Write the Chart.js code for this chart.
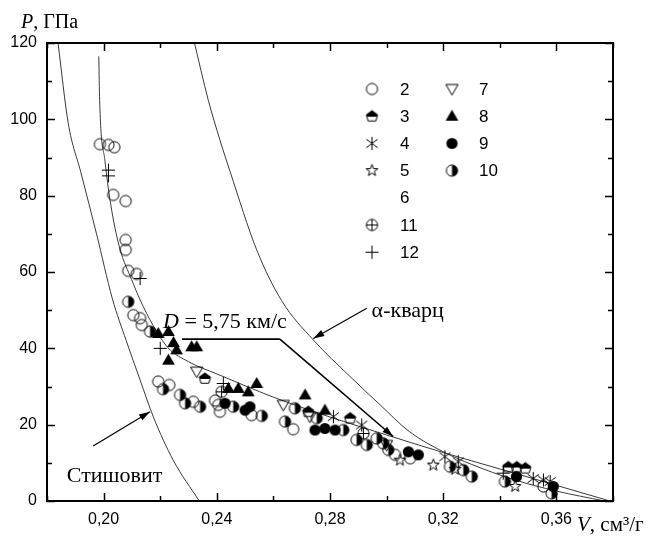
<!DOCTYPE html>
<html lang="ru">
<head>
<meta charset="UTF-8">
<title>P-V</title>
<script src="https://cdn.jsdelivr.net/npm/chart.js@4.4.1/dist/chart.umd.min.js"></script>
<style>
  body { margin: 0; background: #fff; }
</style>
</head>
<body>
<canvas id="pv" width="652" height="538"></canvas>
<script>
// axis ticks
const xMajor = [0.20, 0.24, 0.28, 0.32, 0.36];
const xMinor = [0.18, 0.22, 0.26, 0.30, 0.34, 0.38];
const yMajor = [0, 20, 40, 60, 80, 100, 120];
const yMinor = [10, 30, 50, 70, 90, 110];

// experimental points, [V, P]
const s2 = [[0.1987,93.5],[0.2017,93.3],[0.2038,92.7],[0.2034,80.2],[0.2078,78.6],
  [0.2078,68.4],[0.2078,65.8],[0.2087,60.3],[0.2117,59.5],[0.2105,48.7],[0.2129,47.9],
  [0.2135,46.1],[0.2193,31.3],[0.2232,30.4],[0.2317,26.0],[0.2394,26.3],[0.2405,25.2],
  [0.2411,23.4],[0.2523,22.5],[0.2670,18.8],[0.3030,12.1],[0.3083,11.2],[0.3554,3.8]];
const s3 = [[0.2358,32.1],[0.2723,23.4],[0.2871,21.7],[0.3430,8.9],[0.3460,8.9],[0.3490,8.6]];
const s4 = [[0.2812,22.1],[0.2912,19.9],[0.3206,11.6],[0.3253,10.3],[0.3518,5.9],[0.3554,5.5],[0.3578,5.1]];
const s5 = [[0.3047,10.7],[0.3165,9.4],[0.3242,8.3],[0.3454,3.8]];
const s6 = [];
const s7 = [[0.2329,33.9],[0.2635,25.2],[0.2729,22.1],[0.3000,14.7]];
const s8 = [[0.2193,43.9],[0.2229,44.4],[0.2247,41.5],[0.2258,39.6],[0.2229,36.9],[0.2311,40.4],
  [0.2329,40.4],[0.2441,29.5],[0.2476,29.5],[0.2511,28.6],[0.2541,30.8],[0.2712,27.8],[0.2782,23.8]];
const s9 = [[0.2429,25.6],[0.2500,23.8],[0.2517,24.7],[0.2747,18.6],[0.2782,19.0],[0.2818,18.6],
  [0.3077,12.9],[0.3112,12.1],[0.3459,6.4],[0.3589,3.8]];
const s10 = [[0.2087,52.2],[0.2164,44.4],[0.2210,29.3],[0.2270,27.8],[0.2288,25.6],[0.2341,24.7],
  [0.2458,24.7],[0.2559,22.3],[0.2641,20.8],[0.2676,24.3],[0.2753,21.7],[0.2847,18.6],[0.2894,16.0],
  [0.2930,14.7],[0.2965,16.4],[0.2988,15.1],[0.3006,13.4],[0.3224,9.0],[0.3271,8.1],[0.3301,6.4],
  [0.3418,5.1],[0.3583,2.0]];
const s11 = [[0.2417,28.6],[0.2918,17.7]];
const s12 = [[0.2017,86.7],[0.2017,85.2],[0.2129,58.3],[0.2200,40.0],[0.2423,30.8],[0.3412,7.3]];

// calculated curves
const stishovite = [[0.1839,120],[0.1875,99],[0.1920,86],[0.1975,70],[0.2031,53],[0.2080,42],
  [0.2129,31.7],[0.2176,22],[0.2246,10.7],[0.2338,0]];
const porous = [[0.1983,116.5],[0.1986,105],[0.2005,89],[0.2029,76],[0.2058,66],
  [0.2099,58],[0.2129,52.7],[0.2175,46],[0.2227,40.2],[0.2300,36.5],[0.2400,33.3],[0.2500,30.2],
  [0.2600,27.2],[0.2800,22.0],[0.3000,17.3],[0.3200,12.7],[0.3400,8.4],[0.3600,4.1],[0.3780,0.2]];
const alphaQuartz = [[0.2318,121],[0.2370,105],[0.2411,94.6],[0.2447,86.3],[0.2541,65.8],[0.2629,52.5],
  [0.2741,42.2],[0.2871,32.6],[0.2977,25.2],[0.3080,18.2],[0.3200,12.9],[0.3300,9.6],[0.3450,5.6],
  [0.3600,2.6],[0.3770,0]];
const dLine = [[0.2277,42.4],[0.2623,42.4],[0.3023,16.9]];

// small canvases used as point symbols
function sym(kind) {
  const c = document.createElement('canvas');
  c.width = 15; c.height = 15;
  const g = c.getContext('2d');
  g.translate(7.5, 7.5);
  g.lineWidth = 1;
  g.strokeStyle = '#000';
  g.fillStyle = '#000';
  const r = 5.6;
  g.beginPath();
  if (kind === 'circle') {
    g.arc(0, 0, r, 0, Math.PI * 2); g.stroke();
  } else if (kind === 'dot') {
    g.arc(0, 0, r, 0, Math.PI * 2); g.fill();
  } else if (kind === 'half') {
    g.arc(0, 0, r, -Math.PI / 2, Math.PI / 2); g.closePath(); g.fill();
    g.beginPath(); g.arc(0, 0, r, 0, Math.PI * 2); g.stroke();
  } else if (kind === 'oplus') {
    g.arc(0, 0, r, 0, Math.PI * 2);
    g.moveTo(-r, 0); g.lineTo(r, 0); g.moveTo(0, -r); g.lineTo(0, r); g.stroke();
  } else if (kind === 'plus') {
    g.moveTo(-r - 1, 0); g.lineTo(r + 1, 0); g.moveTo(0, -r - 1); g.lineTo(0, r + 1); g.stroke();
  } else if (kind === 'tri') {
    g.moveTo(0, -r - 1); g.lineTo(r + 0.8, r * 0.8); g.lineTo(-r - 0.8, r * 0.8); g.closePath(); g.fill();
  } else if (kind === 'tridown') {
    g.moveTo(0, r + 0.5); g.lineTo(r + 0.5, -r * 0.8); g.lineTo(-r - 0.5, -r * 0.8); g.closePath(); g.stroke();
  } else if (kind === 'house') {
    const pts = [[0, -r], [r, -r * 0.25], [r * 0.7, r * 0.85], [-r * 0.7, r * 0.85], [-r, -r * 0.25]];
    g.moveTo(pts[0][0], pts[0][1]);
    pts.forEach(p => g.lineTo(p[0], p[1]));
    g.closePath(); g.stroke();
    g.beginPath();
    g.moveTo(0, -r); g.lineTo(r, -r * 0.25); g.lineTo(r * 0.85, 0.5); g.lineTo(-r * 0.85, 0.5); g.lineTo(-r, -r * 0.25);
    g.closePath(); g.fill();
  } else if (kind === 'ast') {
    g.moveTo(0, -r - 1); g.lineTo(0, r + 1);
    g.moveTo(-r, -r * 0.75); g.lineTo(r, r * 0.75);
    g.moveTo(-r, r * 0.75); g.lineTo(r, -r * 0.75);
    g.stroke();
  } else if (kind === 'star') {
    for (let i = 0; i < 10; i++) {
      const a = -Math.PI / 2 + i * Math.PI / 5;
      const rr = i % 2 ? r * 0.45 : r + 0.5;
      g.lineTo(Math.cos(a) * rr, Math.sin(a) * rr);
    }
    g.closePath(); g.stroke();
  }
  return c;
}

const series = [
  { label: '2', pts: s2, sym: sym('circle') },
  { label: '3', pts: s3, sym: sym('house') },
  { label: '4', pts: s4, sym: sym('ast') },
  { label: '5', pts: s5, sym: sym('star') },
  { label: '6', pts: s6, sym: null },
  { label: '7', pts: s7, sym: sym('tridown') },
  { label: '8', pts: s8, sym: sym('tri') },
  { label: '9', pts: s9, sym: sym('dot') },
  { label: '10', pts: s10, sym: sym('half') },
  { label: '11', pts: s11, sym: sym('oplus') },
  { label: '12', pts: s12, sym: sym('plus') }
];

const toXY = a => a.map(p => ({ x: p[0], y: p[1] }));

const datasets = series.map(s => ({
  label: s.label,
  data: toXY(s.pts),
  pointStyle: s.sym || 'circle',
  pointRadius: s.sym ? 6 : 0,
  showLine: false,
  order: 0
}));
[stishovite, porous, alphaQuartz].forEach(c => datasets.push({
  type: 'line',
  data: toXY(c),
  borderColor: '#3a3a3a',
  borderWidth: 1,
  pointRadius: 0,
  cubicInterpolationMode: 'monotone',
  fill: false,
  order: 5
}));

const serif = '"Liberation Serif", "Times New Roman", serif';
const sans = '"Liberation Sans", Arial, sans-serif';

function arrow(ctx, x1, y1, x2, y2) {
  const a = Math.atan2(y2 - y1, x2 - x1);
  ctx.beginPath(); ctx.moveTo(x1, y1); ctx.lineTo(x2, y2); ctx.stroke();
  ctx.beginPath();
  ctx.moveTo(x2, y2);
  ctx.lineTo(x2 - 11 * Math.cos(a) + 3.5 * Math.sin(a), y2 - 11 * Math.sin(a) - 3.5 * Math.cos(a));
  ctx.lineTo(x2 - 11 * Math.cos(a) - 3.5 * Math.sin(a), y2 - 11 * Math.sin(a) + 3.5 * Math.cos(a));
  ctx.closePath(); ctx.fill();
}

function mixed(ctx, parts, x, y) {
  parts.forEach(p => {
    ctx.font = p[1];
    ctx.fillText(p[0], x, y);
    x += ctx.measureText(p[0]).width;
  });
}

const deco = {
  id: 'deco',
  afterDatasetsDraw(chart) {
    const ctx = chart.ctx;
    const xs = chart.scales.x, ys = chart.scales.y;
    const X = v => xs.getPixelForValue(v), Y = v => ys.getPixelForValue(v);
    const a = chart.chartArea;
    ctx.save();
    ctx.fillStyle = '#000';
    ctx.strokeStyle = '#000';
    ctx.textBaseline = 'alphabetic';

    // D = 5,75 km/s leader
    ctx.lineWidth = 1.6;
    ctx.beginPath();
    ctx.moveTo(X(dLine[0][0]), Y(dLine[0][1]));
    ctx.lineTo(X(dLine[1][0]), Y(dLine[1][1]));
    ctx.stroke();
    arrow(ctx, X(dLine[1][0]), Y(dLine[1][1]), X(dLine[2][0]), Y(dLine[2][1]));
    mixed(ctx, [['D', 'italic 22px ' + serif], [' = 5,75 км/с', '22px ' + serif]], X(0.2210), Y(45.3));

    // alpha-quartz and stishovite labels
    ctx.lineWidth = 1.2;
    arrow(ctx, X(0.2930), Y(50.5), X(0.2741), Y(42.6));
    ctx.font = '22px ' + serif;
    ctx.fillText('α-кварц', X(0.2947), Y(48.2));
    arrow(ctx, X(0.1963), Y(14.4), X(0.2164), Y(23.4));
    ctx.font = '22px ' + serif;
    ctx.fillText('Стишовит', X(0.1870), Y(5.1));

    // legend, two columns
    const col1 = ['2', '3', '4', '5', '6', '11', '12'];
    const col2 = ['7', '8', '9', '10'];
    ctx.font = '17px ' + sans;
    ctx.textBaseline = 'middle';
    [[col1, 372, 400], [col2, 452, 479]].forEach(([labels, sx, tx]) => {
      labels.forEach((lab, i) => {
        const y = 89 + i * 27.2;
        const s = series.find(q => q.label === lab);
        if (s.sym) ctx.drawImage(s.sym, sx - s.sym.width / 2, y - s.sym.height / 2);
        ctx.fillText(lab, tx, y + 1);
      });
    });

    // frame and inward ticks
    ctx.lineWidth = 2;
    ctx.strokeRect(a.left, a.top, a.right - a.left, a.bottom - a.top);
    ctx.lineWidth = 1.5;
    ctx.beginPath();
    const tx = (list, len) => list.forEach(v => {
      const px = Math.round(X(v)) + 0.5;
      ctx.moveTo(px, a.bottom); ctx.lineTo(px, a.bottom - len);
      ctx.moveTo(px, a.top); ctx.lineTo(px, a.top + len);
    });
    const ty = (list, len) => list.forEach(v => {
      const py = Math.round(Y(v)) + 0.5;
      ctx.moveTo(a.left, py); ctx.lineTo(a.left + len, py);
      ctx.moveTo(a.right, py); ctx.lineTo(a.right - len, py);
    });
    tx(xMajor, 8); tx(xMinor, 5); ty(yMajor, 8); ty(yMinor, 5);
    ctx.stroke();

    // axis titles
    ctx.textBaseline = 'alphabetic';
    mixed(ctx, [['P', 'italic 20px ' + serif], [', ГПа', '20px ' + serif]], 21, 28);
    mixed(ctx, [['V', 'italic 21px ' + serif], [', см³/г', '21px ' + serif]], 577, 531);
    ctx.restore();
  }
};

new Chart(document.getElementById('pv'), {
  type: 'scatter',
  data: { datasets },
  options: {
    responsive: false,
    animation: false,
    layout: { padding: { left: 0, top: 43, right: 39, bottom: 0 } },
    plugins: { legend: { display: false }, tooltip: { enabled: false } },
    scales: {
      x: {
        type: 'linear', min: 0.18, max: 0.38,
        grid: { display: false, drawTicks: false },
        border: { display: false },
        afterBuildTicks: s => { s.ticks = xMajor.map(v => ({ value: v })); },
        afterFit: s => { s.height = 37; },
        ticks: {
          padding: 9, color: '#000', font: { family: sans, size: 16 },
          callback: v => v.toFixed(2).replace('.', ',')
        }
      },
      y: {
        min: 0, max: 120,
        grid: { display: false, drawTicks: false },
        border: { display: false },
        afterBuildTicks: s => { s.ticks = yMajor.map(v => ({ value: v })); },
        afterFit: s => { s.width = 47; },
        ticks: { padding: 10, color: '#000', font: { family: sans, size: 16 } }
      }
    }
  },
  plugins: [deco]
});
</script>
</body>
</html>
